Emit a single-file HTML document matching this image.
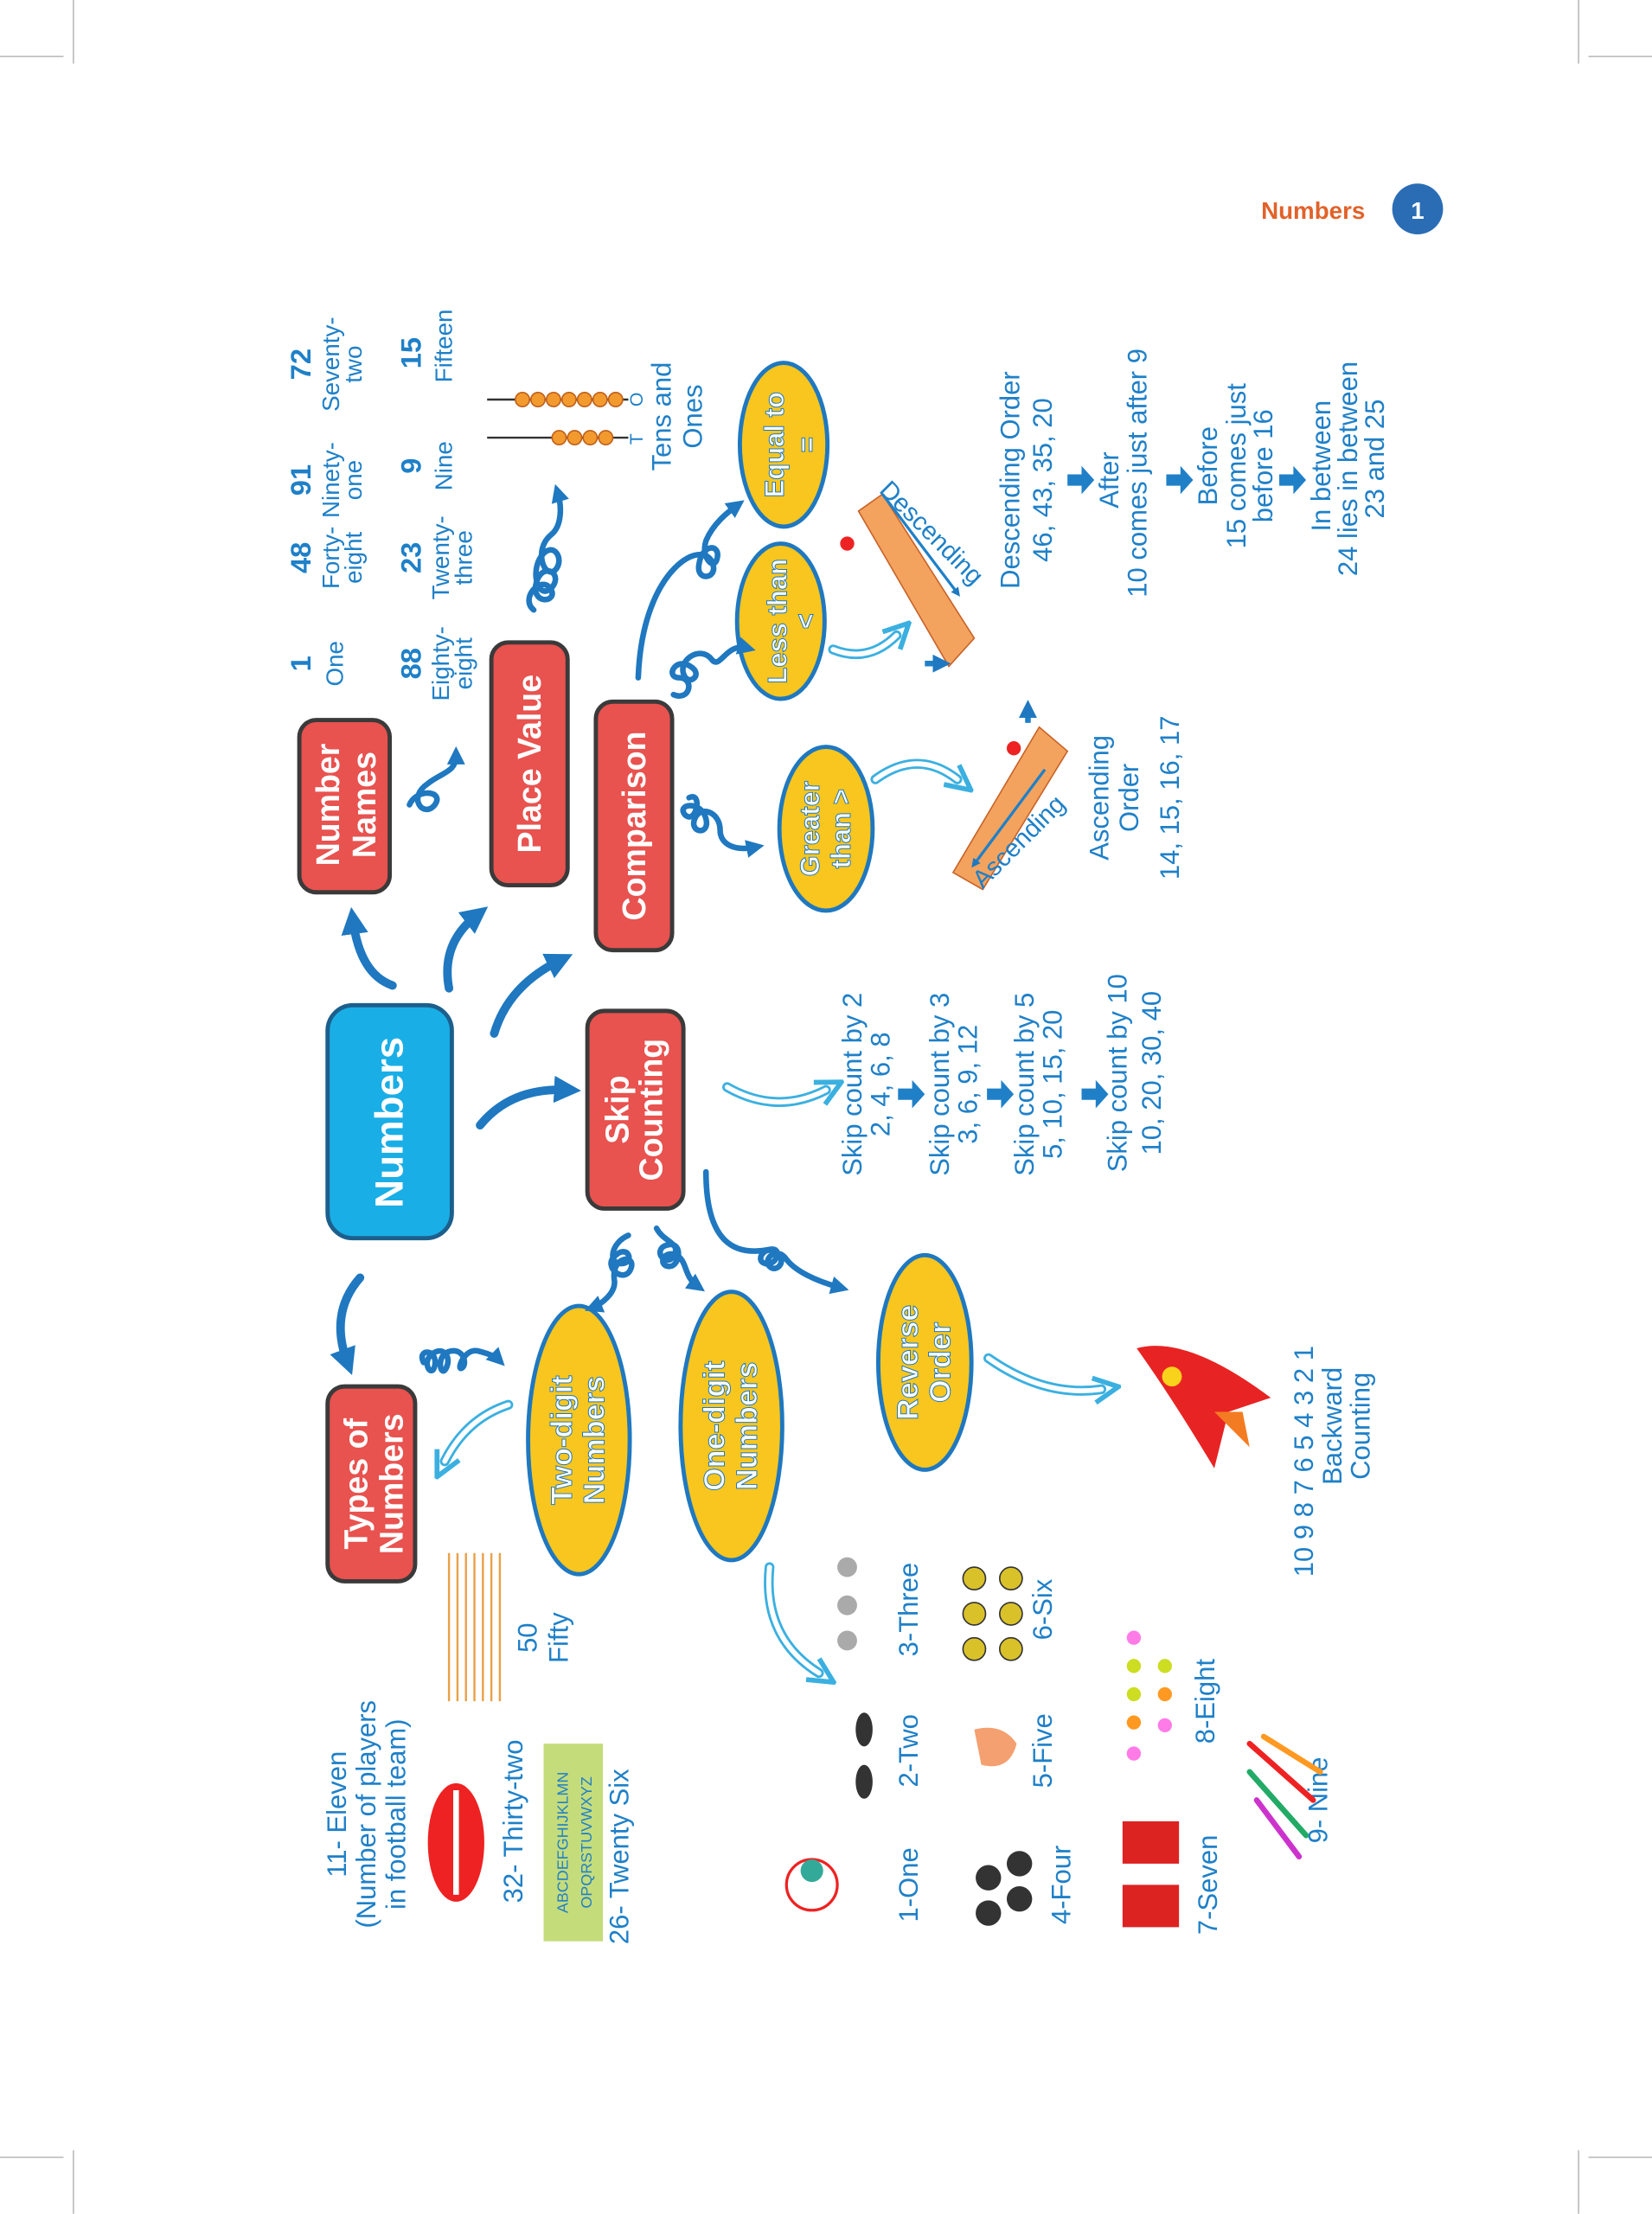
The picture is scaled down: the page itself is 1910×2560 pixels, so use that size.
<!DOCTYPE html>
<html><head><meta charset="utf-8"><style>
html,body{margin:0;padding:0;background:#fff}
svg{display:block}
text{font-family:"Liberation Sans",sans-serif}
.n{font-weight:bold;fill:#fff;font-size:23px}
.h{fill:#1f80c8;font-size:17px}
.b{fill:#1f80c8;font-size:20px;font-weight:bold}
.big{fill:#1f80c8;font-size:19px}
</style></head><body>
<svg width="1910" height="2560" viewBox="0 0 1910 2560" xmlns="http://www.w3.org/2000/svg">
<defs>
<marker id="ah" viewBox="0 0 10 10" refX="5" refY="5" markerWidth="3.2" markerHeight="3.2" orient="auto"><path d="M0,0L10,5L0,10z" fill="#1f78c0"/></marker>
<marker id="ho" viewBox="0 0 12 12" refX="4" refY="6" markerWidth="3" markerHeight="3" orient="auto"><path d="M1,1L11,6L1,11" fill="none" stroke="#3bb0e0" stroke-width="2"/></marker>
</defs>
<g transform="scale(1.6325)">
<g stroke="#bbb" stroke-width="1" fill="none">
<path d="M0,40H45M52,0V45M1170,40H1125M1118,0V45M0,1528H45M52,1568V1523M1170,1528H1125M1118,1568V1523"/>
</g>
<text x="930" y="155" text-anchor="middle" style="font-size:17px;font-weight:bold;fill:#e2622a">Numbers</text>
<circle cx="1004" cy="148" r="18" fill="#2a6db5"/>
<text x="1004" y="155" text-anchor="middle" style="font-size:17px;font-weight:bold;fill:#fff">1</text>

<rect x="232" y="712" width="88" height="165" rx="18" fill="#1aaee6" stroke="#1c5f8c" stroke-width="3"/>
<text class="n" style="font-size:28px" transform="translate(285,795) rotate(-90)" text-anchor="middle">Numbers</text>

<g fill="#e8524f" stroke="#3a3a3a" stroke-width="3">
<rect x="212" y="510" width="64" height="122" rx="12"/>
<rect x="348" y="455" width="54" height="172" rx="12"/>
<rect x="422" y="497" width="54" height="176" rx="12"/>
<rect x="416" y="716" width="68" height="140" rx="12"/>
<rect x="232" y="982" width="62" height="138" rx="12"/>
</g>
<text class="n" transform="translate(240,570) rotate(-90)" text-anchor="middle">Number</text>
<text class="n" transform="translate(266,570) rotate(-90)" text-anchor="middle">Names</text>
<text class="n" transform="translate(383,541) rotate(-90)" text-anchor="middle">Place Value</text>
<text class="n" transform="translate(457,585) rotate(-90)" text-anchor="middle">Comparison</text>
<text class="n" transform="translate(445,786) rotate(-90)" text-anchor="middle">Skip</text>
<text class="n" transform="translate(469,786) rotate(-90)" text-anchor="middle">Counting</text>
<text class="n" transform="translate(260,1051) rotate(-90)" text-anchor="middle">Types of</text>
<text class="n" transform="translate(285,1051) rotate(-90)" text-anchor="middle">Numbers</text>

<g fill="#f8c61e" stroke="#1f78c0" stroke-width="3">
<ellipse cx="410" cy="1020" rx="36" ry="95"/>
<ellipse cx="518" cy="1010" rx="36" ry="95"/>
<ellipse cx="655" cy="965" rx="33" ry="76"/>
<ellipse cx="585" cy="587" rx="33" ry="58"/>
<ellipse cx="553" cy="440" rx="31" ry="55"/>
<ellipse cx="555" cy="315" rx="31" ry="58"/>
</g>
<g class="n" style="fill:#fff;font-size:21px;stroke:#1f78c0;stroke-width:0.6" text-anchor="middle">
<text transform="translate(405,1020) rotate(-90)">Two-digit</text>
<text transform="translate(428,1020) rotate(-90)">Numbers</text>
<text transform="translate(513,1010) rotate(-90)">One-digit</text>
<text transform="translate(536,1010) rotate(-90)">Numbers</text>
<text transform="translate(650,965) rotate(-90)">Reverse</text>
<text transform="translate(673,965) rotate(-90)">Order</text>
<text transform="translate(580,587) rotate(-90)" style="font-size:19px">Greater</text>
<text transform="translate(602,587) rotate(-90)" style="font-size:19px">than &gt;</text>
<text transform="translate(557,440) rotate(-90)" style="font-size:19px">Less than</text>
<text transform="translate(577,440) rotate(-90)" style="font-size:19px">&lt;</text>
<text transform="translate(555,315) rotate(-90)" style="font-size:19px">Equal to</text>
<text transform="translate(578,315) rotate(-90)" style="font-size:19px">=</text>
</g>

<g fill="none" stroke="#1f78c0" stroke-width="6" stroke-linecap="round" marker-end="url(#ah)">
<path d="M278,698 Q255,690 250,652"/>
<path d="M318,700 Q312,668 338,648"/>
<path d="M350,732 Q360,698 397,680"/>
<path d="M340,797 Q362,770 402,772"/>
<path d="M255,905 Q233,930 246,965"/>
</g>
<g fill="none" stroke="#1f78c0" stroke-width="4" stroke-linecap="round" marker-end="url(#ah)">
<path d="M290,570 c5,-12 25,-10 18,0 c-8,10 -20,-5 -5,-15 c10,-8 20,-8 20,-20"/>
<path d="M378,432 c-10,-8 5,-25 12,-15 c6,10 -15,12 -10,-5 c5,-15 20,-5 10,5 c-10,8 -15,-15 -5,-25 c8,-8 15,5 8,12 c-8,6 -15,-15 -3,-25 c8,-6 8,-20 5,-30"/>
<path d="M488,565 c10,-5 5,20 -3,12 c-6,-8 12,-10 15,3 c3,12 -12,10 -8,0 c4,-10 18,-5 18,8 c0,10 10,15 25,12"/>
<path d="M477,492 c12,5 15,-12 4,-12 c-10,0 -3,-15 8,-8 c10,6 -2,15 -5,5 c-3,-10 12,-20 20,-10 c6,8 10,-12 25,-8"/>
<path d="M452,480 C455,400 500,380 505,400 c3,10 -12,12 -10,0 c2,-15 15,-15 13,-5 c-2,10 -12,0 -8,-12 c5,-12 15,-20 22,-25"/>
<path d="M445,875 c-12,5 -15,20 -5,20 c10,0 5,-15 -5,-5 c-8,8 8,20 12,8 c3,-10 -14,-8 -12,8 c2,10 -10,18 -15,20"/>
<path d="M465,870 c5,10 18,10 12,20 c-6,8 -15,-5 -5,-8 c12,-4 10,15 2,15 c-8,0 -5,-12 5,-8 c8,4 5,15 15,22"/>
<path d="M500,830 C500,880 520,890 545,885 c10,-2 5,12 -3,10 c-8,-2 0,-14 8,-8 c8,6 0,15 -5,10 c-5,-5 5,-15 12,-5 c6,8 20,15 38,20"/>
<path d="M300,965 c-5,-10 10,-10 8,2 c-2,10 -10,-2 -2,-8 c8,-6 14,2 10,10 c-4,8 -8,-10 3,-12 c10,-2 12,10 8,12 c-4,2 2,-15 12,-12 c8,2 12,4 14,6"/>
</g>
<g fill="none" stroke-linecap="round">
<g stroke="#3bb0e0" stroke-width="7" marker-end="url(#ho)">
<path d="M515,770 Q550,790 585,772"/><path d="M620,552 Q650,530 678,552"/><path d="M590,460 Q615,470 635,450"/>
<path d="M700,962 Q740,990 780,984"/><path d="M545,1110 Q540,1160 580,1185"/><path d="M360,995 Q330,1005 315,1035"/>
</g>
<g stroke="#fff" stroke-width="3.5">
<path d="M515,770 Q550,790 585,772"/><path d="M620,552 Q650,530 678,552"/><path d="M590,460 Q615,470 635,450"/>
<path d="M700,962 Q740,990 780,984"/><path d="M545,1110 Q540,1160 580,1185"/><path d="M360,995 Q330,1005 315,1035"/>
</g>
</g>
<g fill="#1f80c8">
<path d="M636,771h10v-6l9,10l-9,10v-6h-10z"/>
<path d="M699,771h10v-6l9,10l-9,10v-6h-10z"/>
<path d="M766,771h10v-6l9,10l-9,10v-6h-10z"/>
<path d="M756,336h10v-6l9,10l-9,10v-6h-10z"/>
<path d="M826,336h10v-6l9,10l-9,10v-6h-10z"/>
<path d="M906,336h10v-6l9,10l-9,10v-6h-10z"/>
</g>

<g text-anchor="middle">
<text class="b" transform="translate(220,470) rotate(-90)">1</text>
<text class="h" transform="translate(243,470) rotate(-90)">One</text>
<text class="b" transform="translate(220,395) rotate(-90)">48</text>
<text class="h" transform="translate(240,395) rotate(-90)">Forty-</text><text class="h" transform="translate(256,395) rotate(-90)">eight</text>
<text class="b" transform="translate(220,340) rotate(-90)">91</text>
<text class="h" transform="translate(240,340) rotate(-90)">Ninety-</text><text class="h" transform="translate(256,340) rotate(-90)">one</text>
<text class="b" transform="translate(220,258) rotate(-90)">72</text>
<text class="h" transform="translate(240,258) rotate(-90)">Seventy-</text><text class="h" transform="translate(256,258) rotate(-90)">two</text>
<text class="b" transform="translate(298,470) rotate(-90)">88</text>
<text class="h" transform="translate(318,470) rotate(-90)">Eighty-</text><text class="h" transform="translate(334,470) rotate(-90)">eight</text>
<text class="b" transform="translate(298,395) rotate(-90)">23</text>
<text class="h" transform="translate(318,395) rotate(-90)">Twenty-</text><text class="h" transform="translate(334,395) rotate(-90)">three</text>
<text class="b" transform="translate(298,330) rotate(-90)">9</text>
<text class="h" transform="translate(320,330) rotate(-90)">Nine</text>
<text class="b" transform="translate(298,250) rotate(-90)">15</text>
<text class="h" transform="translate(320,245) rotate(-90)">Fifteen</text>
</g>
<g>
<line x1="345" y1="283" x2="445" y2="283" stroke="#333" stroke-width="1.5"/>
<line x1="345" y1="310" x2="445" y2="310" stroke="#333" stroke-width="1.5"/>
<g fill="#f39a2e" stroke="#c0601a" stroke-width="1">
<circle cx="370" cy="283" r="5"/><circle cx="381" cy="283" r="5"/><circle cx="392" cy="283" r="5"/><circle cx="403" cy="283" r="5"/><circle cx="414" cy="283" r="5"/><circle cx="425" cy="283" r="5"/><circle cx="436" cy="283" r="5"/>
<circle cx="396" cy="310" r="5"/><circle cx="407" cy="310" r="5"/><circle cx="418" cy="310" r="5"/><circle cx="429" cy="310" r="5"/>
</g>
<text class="h" style="font-size:13px" transform="translate(455,315) rotate(-90)">T</text>
<text class="h" style="font-size:13px" transform="translate(455,288) rotate(-90)">O</text>
<text class="h" style="font-size:19px" transform="translate(475,295) rotate(-90)" text-anchor="middle">Tens and</text>
<text class="h" style="font-size:19px" transform="translate(497,295) rotate(-90)" text-anchor="middle">Ones</text>
</g>
<g>
<path d="M608,362 L625,350 L690,452 L672,472 Z" fill="#f4a35e" stroke="#c8642a"/>
<path d="M736,515 L756,532 L696,630 L675,618 Z" fill="#f4a35e" stroke="#c8642a"/>
<circle cx="600" cy="385" r="5" fill="#e22"/><circle cx="718" cy="530" r="5" fill="#e22"/>
<path d="M625,350 L678,420" stroke="#1f80c8" stroke-width="2" marker-end="url(#ah)"/>
<path d="M740,545 L690,612" stroke="#1f80c8" stroke-width="2" marker-end="url(#ah)"/>
<path d="M655,470 h12" stroke="#1f80c8" stroke-width="4" marker-end="url(#ah)"/>
<path d="M728,512 v-10" stroke="#1f80c8" stroke-width="4" marker-end="url(#ah)"/>
<text class="h" style="font-size:18px" transform="translate(622,348) rotate(45)">Descending</text>
<text class="h" style="font-size:18px" transform="translate(696,630) rotate(-45)">Ascending</text>
</g>
<g text-anchor="middle">
<text class="big" transform="translate(722,340) rotate(-90)">Descending Order</text>
<text class="big" transform="translate(745,340) rotate(-90)">46, 43, 35, 20</text>
<text class="big" transform="translate(792,340) rotate(-90)">After</text>
<text class="big" transform="translate(812,335) rotate(-90)">10 comes just after 9</text>
<text class="big" transform="translate(862,330) rotate(-90)">Before</text>
<text class="big" transform="translate(882,330) rotate(-90)">15 comes just</text>
<text class="big" transform="translate(901,330) rotate(-90)">before 16</text>
<text class="big" transform="translate(942,330) rotate(-90)">In between</text>
<text class="big" transform="translate(961,332) rotate(-90)">24 lies in between</text>
<text class="big" transform="translate(980,325) rotate(-90)">23 and 25</text>
<text class="big" transform="translate(785,565) rotate(-90)">Ascending</text>
<text class="big" transform="translate(806,565) rotate(-90)">Order</text>
<text class="big" transform="translate(835,565) rotate(-90)">14, 15, 16, 17</text>
<text class="big" transform="translate(610,768) rotate(-90)">Skip count by 2</text>
<text class="big" transform="translate(630,768) rotate(-90)">2, 4, 6, 8</text>
<text class="big" transform="translate(672,768) rotate(-90)">Skip count by 3</text>
<text class="big" transform="translate(692,768) rotate(-90)">3, 6, 9, 12</text>
<text class="big" transform="translate(732,768) rotate(-90)">Skip count by 5</text>
<text class="big" transform="translate(752,768) rotate(-90)">5, 10, 15, 20</text>
<text class="big" transform="translate(798,760) rotate(-90)">Skip count by 10</text>
<text class="big" transform="translate(822,760) rotate(-90)">10, 20, 30, 40</text>
<text class="big" transform="translate(930,1035) rotate(-90)">10 9 8 7 6 5 4 3 2 1</text>
<text class="big" transform="translate(950,1010) rotate(-90)">Backward</text>
<text class="big" transform="translate(970,1010) rotate(-90)">Counting</text>
<text class="big" transform="translate(245,1285) rotate(-90)">11- Eleven</text>
<text class="big" transform="translate(266,1285) rotate(-90)">(Number of players</text>
<text class="big" transform="translate(287,1285) rotate(-90)">in football team)</text>
<text class="big" transform="translate(370,1290) rotate(-90)">32- Thirty-two</text>
<text class="big" transform="translate(445,1315) rotate(-90)">26- Twenty Six</text>
<text class="big" transform="translate(380,1160) rotate(-90)">50</text>
<text class="big" transform="translate(402,1160) rotate(-90)">Fifty</text>
<text class="big" transform="translate(650,1335) rotate(-90)">1-One</text>
<text class="big" transform="translate(650,1240) rotate(-90)">2-Two</text>
<text class="big" transform="translate(650,1140) rotate(-90)">3-Three</text>
<text class="big" transform="translate(758,1335) rotate(-90)">4-Four</text>
<text class="big" transform="translate(745,1240) rotate(-90)">5-Five</text>
<text class="big" transform="translate(745,1140) rotate(-90)">6-Six</text>
<text class="big" transform="translate(862,1335) rotate(-90)">7-Seven</text>
<text class="big" transform="translate(860,1205) rotate(-90)">8-Eight</text>
<text class="big" transform="translate(940,1275) rotate(-90)">9- Nine</text>
</g>
<rect x="385" y="1235" width="42" height="140" fill="#c5dc7a"/>
<text transform="translate(402,1305) rotate(-90)" text-anchor="middle" style="font-size:11px;fill:#1f80c8">ABCDEFGHIJKLMN</text>
<text transform="translate(419,1305) rotate(-90)" text-anchor="middle" style="font-size:11px;fill:#1f80c8">OPQRSTUVWXYZ</text>
<ellipse cx="323" cy="1305" rx="20" ry="42" fill="#e22" />
<line x1="323" y1="1268" x2="323" y2="1342" stroke="#fff" stroke-width="4"/>
<g stroke="#e9a24a" stroke-width="1.5">
<path d="M318,1100V1205M324,1100V1205M330,1100V1205M336,1100V1205M342,1100V1205M348,1100V1205M354,1100V1205"/>
</g>
<path d="M805,955 Q840,945 900,990 L870,1000 L860,1040 Q830,990 805,955Z" fill="#e82323"/>
<path d="M860,1000 L880,1000 L885,1025 Z" fill="#f37c22"/>
<circle cx="830" cy="975" r="7" fill="#f9d21c"/>
<g fill="#aaa"><circle cx="600" cy="1110" r="7"/><circle cx="600" cy="1137" r="7"/><circle cx="600" cy="1162" r="7"/></g>
<g fill="#d9c12a" stroke="#333"><circle cx="690" cy="1118" r="8"/><circle cx="690" cy="1143" r="8"/><circle cx="690" cy="1168" r="8"/><circle cx="716" cy="1118" r="8"/><circle cx="716" cy="1143" r="8"/><circle cx="716" cy="1168" r="8"/></g>
<g fill="#333"><ellipse cx="612" cy="1225" rx="6" ry="12"/><ellipse cx="612" cy="1262" rx="6" ry="12"/></g>
<path d="M690,1225 q20,-5 30,10 q-5,20 -25,15z" fill="#f4a070"/>
<g fill="#333"><circle cx="700" cy="1330" r="9"/><circle cx="700" cy="1355" r="9"/><circle cx="722" cy="1320" r="9"/><circle cx="722" cy="1345" r="9"/></g>
<g fill="#f4d" opacity=".7"><circle cx="803" cy="1160" r="5"/><circle cx="803" cy="1242" r="5"/><circle cx="825" cy="1222" r="5"/></g>
<g fill="#f92"><circle cx="803" cy="1220" r="5"/><circle cx="825" cy="1200" r="5"/></g>
<g fill="#cd2"><circle cx="803" cy="1180" r="5"/><circle cx="803" cy="1200" r="5"/><circle cx="825" cy="1180" r="5"/></g>
<g fill="#d22"><rect x="795" y="1290" width="40" height="30"/><rect x="795" y="1335" width="40" height="30"/></g>
<g stroke-width="4" stroke-linecap="round"><path d="M885,1235 L930,1275" stroke="#e22"/><path d="M885,1255 L925,1300" stroke="#2a6"/><path d="M890,1275 L920,1315" stroke="#c3c"/><path d="M895,1230 L935,1255" stroke="#f92"/></g>
<g><circle cx="575" cy="1335" r="18" fill="#fff" stroke="#e22" stroke-width="2"/><circle cx="575" cy="1325" r="8" fill="#3a9"/></g>
</g>
</svg>
</body></html>
